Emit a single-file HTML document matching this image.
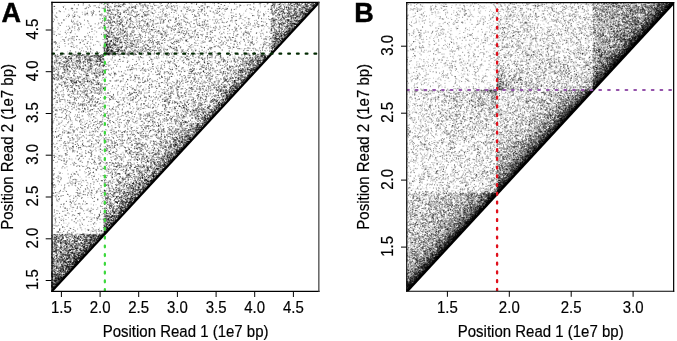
<!DOCTYPE html>
<html><head><meta charset="utf-8">
<style>
html,body{margin:0;padding:0;background:#fff;}
body{width:677px;height:341px;position:relative;overflow:hidden;font-family:"Liberation Sans",sans-serif;}
canvas{position:absolute;left:0;top:0;}
svg{position:absolute;left:0;top:0;}
</style></head><body>
<div id="wrap" style="position:absolute;left:0;top:0;width:677px;height:341px;filter:blur(0.3px);">
<svg id="fallback" width="677" height="341" viewBox="0 0 677 341" style="position:absolute;left:0;top:0"><defs><clipPath id="fa"><path d="M51.5 291.2L318.8 2.5H51.5Z"/></clipPath><clipPath id="fb"><path d="M406.8 291.0L673.6 2.6H406.8Z"/></clipPath></defs><g clip-path="url(#fa)"><path fill="#000000" d="M296 27h5v5h-5zM271 52h5v5h-5zM221 107h5v5h-5zM171 162h5v5h-5zM161 172h5v5h-5zM146 187h5v5h-5zM111 227h5v5h-5zM96 242h5v5h-5z"/><path fill="#0b0b0b" d="M286 37h5v5h-5zM236 92h5v5h-5zM211 117h5v5h-5zM196 132h5v5h-5zM181 147h5v5h-5zM151 182h5v5h-5zM136 197h5v5h-5zM131 202h5v5h-5zM101 237h5v5h-5zM86 252h5v5h-5zM81 257h5v5h-5zM76 262h5v5h-5zM71 267h5v5h-5zM61 277h5v5h-5zM56 282h5v5h-5z"/><path fill="#151515" d="M281 42h5v5h-5zM276 47h5v5h-5zM261 62h5v5h-5zM256 67h5v5h-5zM246 77h5v5h-5zM241 82h5v5h-5zM226 102h5v5h-5zM206 122h5v5h-5zM201 127h5v5h-5zM186 142h5v5h-5zM171 157h10v5h-10zM156 177h5v5h-5zM141 192h5v5h-5zM111 222h5v5h-5zM106 227h5v5h-5zM91 247h5v5h-5zM66 272h5v5h-5z"/><path fill="#202020" d="M316 2h5v5h-5zM311 7h5v5h-5zM306 12h5v5h-5zM301 17h5v5h-5zM301 22h5v5h-5zM266 57h5v5h-5zM251 72h5v5h-5zM236 87h5v5h-5zM231 92h5v5h-5zM226 97h5v5h-5zM221 102h5v5h-5zM216 112h5v5h-5zM191 137h5v5h-5zM176 152h5v5h-5zM166 167h5v5h-5zM126 207h5v5h-5zM121 212h5v5h-5zM116 217h5v5h-5zM116 222h5v5h-5zM106 232h5v5h-5z"/><path fill="#2a2a2a" d="M296 22h5v5h-5zM291 27h5v5h-5zM286 32h10v5h-10zM281 37h5v5h-5zM231 97h5v5h-5zM166 162h5v5h-5zM96 237h5v5h-5zM86 247h5v5h-5zM81 252h5v5h-5zM76 257h5v5h-5z"/><path fill="#353535" d="M241 87h5v5h-5zM216 107h5v5h-5zM211 112h5v5h-5zM161 167h5v5h-5zM151 177h5v5h-5zM146 182h5v5h-5zM101 232h5v5h-5zM91 242h5v5h-5zM71 262h5v5h-5zM56 277h5v5h-5zM51 287h5v5h-5z"/><path fill="#404040" d="M206 117h5v5h-5zM196 127h5v5h-5zM156 172h5v5h-5zM131 197h5v5h-5zM121 207h5v5h-5zM56 287h5v5h-5z"/><path fill="#4a4a4a" d="M276 42h5v5h-5zM271 47h5v5h-5zM251 67h5v5h-5zM176 147h5v5h-5zM181 152h5v5h-5zM141 187h5v5h-5zM126 202h5v5h-5zM66 267h5v5h-5zM51 282h5v5h-5z"/><path fill="#555555" d="M306 7h5v5h-5zM301 12h5v5h-5zM261 57h5v5h-5zM256 62h5v5h-5zM226 92h5v5h-5zM201 122h5v5h-5zM186 137h5v5h-5zM136 192h5v5h-5zM91 237h5v5h-5z"/><path fill="#606060" d="M311 2h5v5h-5zM246 72h5v5h-5zM241 77h5v5h-5zM231 87h5v5h-5zM166 157h5v5h-5zM116 212h5v5h-5zM111 217h5v5h-5zM106 222h5v5h-5zM81 247h5v5h-5zM76 252h5v5h-5zM71 257h5v5h-5zM66 262h5v5h-5zM61 267h5v5h-5zM61 272h5v5h-5z"/><path fill="#6a6a6a" d="M306 17h5v5h-5zM291 22h5v5h-5zM286 27h5v5h-5zM281 32h5v5h-5zM106 47h5v5h-5zM236 82h5v5h-5zM181 142h5v5h-5zM171 152h5v5h-5zM161 162h5v5h-5zM151 172h5v5h-5zM86 242h5v5h-5zM71 252h5v5h-5zM51 272h10v5h-10z"/><path fill="#757575" d="M296 17h5v5h-5zM276 37h5v5h-5zM96 57h5v5h-5zM216 102h5v5h-5zM201 117h5v5h-5zM191 132h5v5h-5zM126 197h5v5h-5zM121 202h5v5h-5zM106 217h5v5h-5zM86 237h5v5h-5zM81 242h5v5h-5zM66 252h5v5h-5zM61 257h10v5h-10zM61 262h5v5h-5zM56 267h5v5h-5z"/><path fill="#808080" d="M296 12h5v5h-5zM106 42h5v5h-5zM256 57h5v5h-5zM211 107h5v5h-5zM131 187h5v5h-5zM131 192h5v5h-5zM111 212h5v5h-5zM61 252h5v5h-5zM56 257h5v5h-5zM51 277h5v5h-5z"/><path fill="#8a8a8a" d="M301 7h5v5h-5zM286 12h5v5h-5zM291 17h5v5h-5zM276 32h5v5h-5zM271 37h5v5h-5zM271 42h5v5h-5zM116 47h5v5h-5zM106 52h5v5h-5zM231 82h5v5h-5zM206 112h5v5h-5zM196 122h5v5h-5zM191 127h5v5h-5zM186 132h5v5h-5zM181 137h5v5h-5zM166 152h5v5h-5zM156 162h5v5h-5zM156 167h5v5h-5zM146 177h5v5h-5zM136 182h10v5h-10zM136 187h5v5h-5zM116 207h5v5h-5zM106 212h5v5h-5zM66 242h5v5h-5zM56 247h5v5h-5zM66 247h15v5h-15z"/><path fill="#959595" d="M291 12h5v5h-5zM286 22h5v5h-5zM101 52h5v5h-5zM266 52h5v5h-5zM76 57h5v5h-5zM251 57h5v5h-5zM241 67h10v5h-10zM221 92h5v5h-5zM221 97h5v5h-5zM176 137h5v5h-5zM171 142h10v5h-10zM161 157h5v5h-5zM141 177h5v5h-5zM126 192h5v5h-5zM121 197h5v5h-5zM101 227h5v5h-5zM96 232h5v5h-5zM56 237h5v5h-5zM71 237h15v5h-15zM51 242h5v5h-5zM71 242h10v5h-10zM51 247h5v5h-5zM51 257h5v5h-5zM51 262h5v5h-5z"/><path fill="#9f9f9f" d="M296 2h5v5h-5zM306 2h5v5h-5zM286 7h5v5h-5zM271 17h5v5h-5zM286 17h5v5h-5zM281 22h5v5h-5zM106 32h5v5h-5zM116 37h5v5h-5zM111 42h5v5h-5zM111 47h5v5h-5zM111 52h5v5h-5zM261 52h5v5h-5zM66 57h5v5h-5zM86 57h5v5h-5zM246 62h10v5h-10zM241 72h5v5h-5zM236 77h5v5h-5zM216 87h5v5h-5zM226 87h5v5h-5zM201 112h5v5h-5zM181 132h5v5h-5zM171 137h5v5h-5zM146 167h10v5h-10zM131 182h5v5h-5zM121 192h5v5h-5zM116 197h5v5h-5zM116 202h5v5h-5zM111 207h5v5h-5zM86 232h10v5h-10zM51 237h5v5h-5zM61 237h5v5h-5zM61 242h5v5h-5zM61 247h5v5h-5zM56 252h5v5h-5zM56 262h5v5h-5zM51 267h5v5h-5z"/><path fill="#aaaaaa" d="M271 2h5v5h-5zM301 2h5v5h-5zM291 7h10v5h-10zM281 12h5v5h-5zM281 17h5v5h-5zM271 22h5v5h-5zM276 27h10v5h-10zM271 32h5v5h-5zM106 37h10v5h-10zM246 57h5v5h-5zM231 77h5v5h-5zM221 87h5v5h-5zM211 97h5v5h-5zM196 107h10v5h-10zM171 147h5v5h-5zM161 152h5v5h-5zM151 162h5v5h-5zM126 172h5v5h-5zM141 172h5v5h-5zM136 177h5v5h-5zM116 187h5v5h-5zM126 187h5v5h-5zM106 197h5v5h-5zM106 202h5v5h-5zM66 237h5v5h-5zM56 242h5v5h-5z"/><path fill="#b5b5b5" d="M291 2h5v5h-5zM276 7h10v5h-10zM276 12h5v5h-5zM276 22h5v5h-5zM271 27h5v5h-5zM131 42h5v5h-5zM121 47h5v5h-5zM141 47h5v5h-5zM96 52h5v5h-5zM61 62h10v5h-10zM76 62h5v5h-5zM101 62h5v5h-5zM96 72h5v5h-5zM236 72h5v5h-5zM71 77h5v5h-5zM226 77h5v5h-5zM71 82h5v5h-5zM96 82h5v5h-5zM216 97h5v5h-5zM206 107h5v5h-5zM196 112h5v5h-5zM196 117h5v5h-5zM191 122h5v5h-5zM181 127h10v5h-10zM161 142h10v5h-10zM166 147h5v5h-5zM151 152h5v5h-5zM146 157h15v5h-15zM136 167h5v5h-5zM146 172h5v5h-5zM121 177h5v5h-5zM126 182h5v5h-5zM111 192h5v5h-5zM101 217h5v5h-5zM56 232h10v5h-10zM71 232h5v5h-5zM81 232h5v5h-5z"/><path fill="#bfbfbf" d="M106 7h5v5h-5zM131 7h5v5h-5zM271 7h5v5h-5zM116 12h5v5h-5zM271 12h5v5h-5zM106 17h5v5h-5zM276 17h5v5h-5zM116 22h5v5h-5zM106 27h5v5h-5zM121 27h5v5h-5zM111 32h5v5h-5zM121 32h10v5h-10zM101 42h5v5h-5zM116 42h5v5h-5zM126 42h5v5h-5zM101 47h5v5h-5zM146 47h5v5h-5zM91 52h5v5h-5zM126 52h5v5h-5zM256 52h5v5h-5zM81 57h5v5h-5zM101 57h5v5h-5zM221 57h5v5h-5zM241 57h5v5h-5zM56 62h5v5h-5zM86 62h5v5h-5zM96 62h5v5h-5zM241 62h5v5h-5zM51 67h5v5h-5zM66 67h5v5h-5zM81 67h10v5h-10zM226 67h5v5h-5zM236 67h5v5h-5zM76 77h5v5h-5zM86 77h5v5h-5zM221 77h5v5h-5zM61 82h5v5h-5zM221 82h5v5h-5zM71 87h5v5h-5zM96 87h5v5h-5zM166 97h5v5h-5zM196 102h5v5h-5zM181 107h15v5h-15zM191 112h5v5h-5zM181 122h10v5h-10zM166 132h5v5h-5zM176 132h5v5h-5zM111 142h5v5h-5zM136 142h10v5h-10zM136 147h5v5h-5zM161 147h5v5h-5zM136 152h5v5h-5zM156 152h5v5h-5zM141 157h5v5h-5zM116 162h5v5h-5zM126 162h5v5h-5zM136 172h5v5h-5zM116 182h10v5h-10zM106 192h5v5h-5zM116 192h5v5h-5zM111 202h5v5h-5zM106 207h5v5h-5zM101 222h5v5h-5zM66 232h5v5h-5zM51 252h5v5h-5z"/><path fill="#cacaca" d="M106 2h5v5h-5zM116 2h5v5h-5zM276 2h5v5h-5zM286 2h5v5h-5zM106 12h10v5h-10zM141 12h5v5h-5zM111 17h10v5h-10zM126 17h5v5h-5zM106 22h10v5h-10zM121 22h10v5h-10zM146 22h5v5h-5zM176 22h5v5h-5zM116 27h5v5h-5zM116 32h5v5h-5zM161 32h5v5h-5zM126 37h15v5h-15zM121 42h5v5h-5zM126 47h15v5h-15zM156 47h5v5h-5zM71 52h20v5h-20zM116 52h10v5h-10zM131 52h5v5h-5zM146 52h5v5h-5zM56 57h10v5h-10zM71 57h5v5h-5zM91 57h5v5h-5zM201 57h5v5h-5zM231 57h5v5h-5zM71 62h5v5h-5zM81 62h5v5h-5zM91 62h5v5h-5zM236 62h5v5h-5zM61 67h5v5h-5zM71 67h5v5h-5zM91 67h5v5h-5zM191 67h5v5h-5zM201 67h5v5h-5zM56 72h10v5h-10zM86 72h10v5h-10zM101 72h5v5h-5zM206 72h5v5h-5zM221 72h5v5h-5zM231 72h5v5h-5zM56 77h15v5h-15zM81 77h5v5h-5zM91 77h5v5h-5zM191 77h5v5h-5zM206 77h5v5h-5zM76 82h10v5h-10zM176 82h5v5h-5zM211 82h5v5h-5zM91 87h5v5h-5zM101 87h5v5h-5zM191 87h10v5h-10zM206 87h5v5h-5zM86 92h5v5h-5zM166 92h5v5h-5zM181 92h5v5h-5zM196 92h5v5h-5zM91 97h5v5h-5zM161 97h5v5h-5zM191 97h5v5h-5zM81 102h5v5h-5zM91 102h5v5h-5zM176 102h10v5h-10zM191 102h5v5h-5zM201 102h15v5h-15zM81 107h5v5h-5zM146 112h5v5h-5zM156 112h5v5h-5zM176 112h10v5h-10zM151 117h5v5h-5zM166 117h20v5h-20zM156 122h5v5h-5zM176 122h5v5h-5zM141 127h5v5h-5zM161 127h5v5h-5zM171 127h10v5h-10zM141 132h5v5h-5zM171 132h5v5h-5zM156 137h10v5h-10zM156 142h5v5h-5zM106 147h5v5h-5zM126 147h5v5h-5zM156 147h5v5h-5zM141 152h5v5h-5zM111 162h5v5h-5zM136 162h15v5h-15zM126 167h5v5h-5zM141 167h5v5h-5zM111 172h10v5h-10zM116 177h5v5h-5zM131 177h5v5h-5zM106 182h5v5h-5zM106 187h10v5h-10zM121 187h5v5h-5zM76 192h5v5h-5zM101 192h5v5h-5zM101 212h5v5h-5zM76 232h5v5h-5z"/><path fill="#d4d4d4" d="M111 2h5v5h-5zM121 2h5v5h-5zM136 2h10v5h-10zM281 2h5v5h-5zM126 7h5v5h-5zM186 7h5v5h-5zM201 7h5v5h-5zM126 12h5v5h-5zM136 12h5v5h-5zM161 12h5v5h-5zM121 17h5v5h-5zM141 17h5v5h-5zM161 17h5v5h-5zM101 22h5v5h-5zM136 22h5v5h-5zM196 22h10v5h-10zM111 27h5v5h-5zM131 27h5v5h-5zM141 27h5v5h-5zM151 27h5v5h-5zM171 27h5v5h-5zM101 32h5v5h-5zM131 32h5v5h-5zM181 32h5v5h-5zM246 32h5v5h-5zM121 37h5v5h-5zM146 37h10v5h-10zM161 37h5v5h-5zM176 37h5v5h-5zM231 37h5v5h-5zM136 42h25v5h-25zM171 42h5v5h-5zM261 42h10v5h-10zM151 47h5v5h-5zM171 47h10v5h-10zM56 52h5v5h-5zM166 52h10v5h-10zM186 52h5v5h-5zM216 52h5v5h-5zM246 52h5v5h-5zM186 57h5v5h-5zM206 57h5v5h-5zM236 57h5v5h-5zM51 62h5v5h-5zM201 62h10v5h-10zM216 62h5v5h-5zM56 67h5v5h-5zM76 67h5v5h-5zM96 67h10v5h-10zM141 67h5v5h-5zM156 67h5v5h-5zM206 67h5v5h-5zM231 67h5v5h-5zM51 72h5v5h-5zM191 72h10v5h-10zM226 72h5v5h-5zM51 77h5v5h-5zM166 77h5v5h-5zM181 77h10v5h-10zM66 82h5v5h-5zM91 82h5v5h-5zM166 82h5v5h-5zM201 82h5v5h-5zM216 82h5v5h-5zM226 82h5v5h-5zM66 87h5v5h-5zM81 87h10v5h-10zM131 87h5v5h-5zM176 87h5v5h-5zM186 87h5v5h-5zM81 92h5v5h-5zM91 92h5v5h-5zM126 92h15v5h-15zM161 92h5v5h-5zM176 92h5v5h-5zM201 92h20v5h-20zM56 97h5v5h-5zM86 97h5v5h-5zM131 97h5v5h-5zM196 97h10v5h-10zM71 102h5v5h-5zM86 102h5v5h-5zM96 102h5v5h-5zM116 102h5v5h-5zM161 102h5v5h-5zM186 102h5v5h-5zM171 107h5v5h-5zM106 112h5v5h-5zM121 112h5v5h-5zM166 112h5v5h-5zM186 112h5v5h-5zM76 117h5v5h-5zM106 117h5v5h-5zM146 117h5v5h-5zM191 117h5v5h-5zM146 122h10v5h-10zM146 127h5v5h-5zM156 127h5v5h-5zM166 127h5v5h-5zM121 132h5v5h-5zM131 132h10v5h-10zM156 132h10v5h-10zM106 137h5v5h-5zM126 137h5v5h-5zM166 137h5v5h-5zM71 142h5v5h-5zM151 142h5v5h-5zM71 147h5v5h-5zM141 147h5v5h-5zM151 147h5v5h-5zM111 152h5v5h-5zM126 152h10v5h-10zM146 152h5v5h-5zM136 157h5v5h-5zM96 162h5v5h-5zM106 162h5v5h-5zM121 162h5v5h-5zM106 167h5v5h-5zM121 167h5v5h-5zM131 167h5v5h-5zM131 172h5v5h-5zM101 177h5v5h-5zM126 177h5v5h-5zM51 182h5v5h-5zM71 182h5v5h-5zM51 192h5v5h-5zM111 197h5v5h-5zM101 202h5v5h-5zM51 232h5v5h-5z"/><path fill="#dfdfdf" d="M101 2h5v5h-5zM131 2h5v5h-5zM166 2h10v5h-10zM201 2h5v5h-5zM101 7h5v5h-5zM111 7h10v5h-10zM146 7h5v5h-5zM171 7h5v5h-5zM216 7h5v5h-5zM71 12h5v5h-5zM91 12h5v5h-5zM101 12h5v5h-5zM131 12h5v5h-5zM146 12h10v5h-10zM191 12h10v5h-10zM216 12h5v5h-5zM231 12h5v5h-5zM101 17h5v5h-5zM136 17h5v5h-5zM151 17h10v5h-10zM166 17h5v5h-5zM176 17h10v5h-10zM231 17h5v5h-5zM71 22h10v5h-10zM131 22h5v5h-5zM141 22h5v5h-5zM151 22h10v5h-10zM186 22h5v5h-5zM206 22h5v5h-5zM246 22h5v5h-5zM256 22h10v5h-10zM101 27h5v5h-5zM126 27h5v5h-5zM146 27h5v5h-5zM156 27h10v5h-10zM176 27h10v5h-10zM191 27h5v5h-5zM201 27h5v5h-5zM211 27h5v5h-5zM231 27h10v5h-10zM136 32h5v5h-5zM156 32h5v5h-5zM166 32h5v5h-5zM176 32h5v5h-5zM186 32h15v5h-15zM206 32h5v5h-5zM241 32h5v5h-5zM71 37h5v5h-5zM141 37h5v5h-5zM171 37h5v5h-5zM181 37h10v5h-10zM206 37h5v5h-5zM226 37h5v5h-5zM261 37h10v5h-10zM176 42h5v5h-5zM216 42h10v5h-10zM236 42h5v5h-5zM251 42h5v5h-5zM86 47h5v5h-5zM161 47h5v5h-5zM181 47h15v5h-15zM206 47h5v5h-5zM246 47h5v5h-5zM256 47h15v5h-15zM61 52h10v5h-10zM136 52h5v5h-5zM156 52h5v5h-5zM181 52h5v5h-5zM196 52h5v5h-5zM206 52h10v5h-10zM241 52h5v5h-5zM251 52h5v5h-5zM51 57h5v5h-5zM136 57h5v5h-5zM166 57h10v5h-10zM181 57h5v5h-5zM196 57h5v5h-5zM106 62h5v5h-5zM186 62h15v5h-15zM226 62h10v5h-10zM126 67h10v5h-10zM181 67h10v5h-10zM211 67h5v5h-5zM221 67h5v5h-5zM66 72h20v5h-20zM111 72h5v5h-5zM121 72h5v5h-5zM156 72h20v5h-20zM186 72h5v5h-5zM201 72h5v5h-5zM211 72h10v5h-10zM96 77h5v5h-5zM126 77h25v5h-25zM176 77h5v5h-5zM196 77h5v5h-5zM216 77h5v5h-5zM56 82h5v5h-5zM86 82h5v5h-5zM101 82h5v5h-5zM136 82h5v5h-5zM156 82h5v5h-5zM171 82h5v5h-5zM191 82h10v5h-10zM206 82h5v5h-5zM51 87h5v5h-5zM76 87h5v5h-5zM136 87h5v5h-5zM166 87h10v5h-10zM201 87h5v5h-5zM211 87h5v5h-5zM56 92h5v5h-5zM71 92h10v5h-10zM96 92h5v5h-5zM106 92h5v5h-5zM186 92h5v5h-5zM71 97h5v5h-5zM81 97h5v5h-5zM96 97h5v5h-5zM106 97h10v5h-10zM121 97h10v5h-10zM151 97h5v5h-5zM176 97h5v5h-5zM206 97h5v5h-5zM66 102h5v5h-5zM76 102h5v5h-5zM101 102h5v5h-5zM126 102h5v5h-5zM141 102h10v5h-10zM166 102h10v5h-10zM51 107h15v5h-15zM76 107h5v5h-5zM86 107h5v5h-5zM96 107h5v5h-5zM111 107h5v5h-5zM136 107h5v5h-5zM151 107h5v5h-5zM161 107h10v5h-10zM66 112h5v5h-5zM126 112h10v5h-10zM141 112h5v5h-5zM151 112h5v5h-5zM161 112h5v5h-5zM66 117h5v5h-5zM116 117h5v5h-5zM126 117h5v5h-5zM136 117h10v5h-10zM161 117h5v5h-5zM81 122h20v5h-20zM106 122h5v5h-5zM116 122h5v5h-5zM126 122h5v5h-5zM141 122h5v5h-5zM171 122h5v5h-5zM51 127h5v5h-5zM71 127h5v5h-5zM81 127h5v5h-5zM91 127h10v5h-10zM111 127h5v5h-5zM126 127h10v5h-10zM151 127h5v5h-5zM56 132h5v5h-5zM66 132h5v5h-5zM96 132h5v5h-5zM111 132h10v5h-10zM146 132h10v5h-10zM71 137h10v5h-10zM86 137h5v5h-5zM96 137h10v5h-10zM111 137h15v5h-15zM131 137h10v5h-10zM146 137h5v5h-5zM61 142h5v5h-5zM81 142h5v5h-5zM91 142h10v5h-10zM106 142h5v5h-5zM116 142h10v5h-10zM131 142h5v5h-5zM66 147h5v5h-5zM76 147h5v5h-5zM111 147h5v5h-5zM131 147h5v5h-5zM146 147h5v5h-5zM76 152h10v5h-10zM91 152h5v5h-5zM116 152h10v5h-10zM61 157h5v5h-5zM76 157h5v5h-5zM91 157h10v5h-10zM116 157h10v5h-10zM131 157h5v5h-5zM71 162h5v5h-5zM131 162h5v5h-5zM86 167h5v5h-5zM101 167h5v5h-5zM111 167h10v5h-10zM71 172h5v5h-5zM86 172h10v5h-10zM106 172h5v5h-5zM56 177h5v5h-5zM71 177h5v5h-5zM111 177h5v5h-5zM101 182h5v5h-5zM111 182h5v5h-5zM76 187h5v5h-5zM96 187h10v5h-10zM56 192h5v5h-5zM56 197h5v5h-5zM101 197h5v5h-5zM86 207h5v5h-5zM101 207h5v5h-5zM76 212h5v5h-5zM96 212h5v5h-5zM96 217h5v5h-5zM56 227h5v5h-5zM91 227h10v5h-10z"/><path fill="#eaeaea" d="M51 2h5v5h-5zM86 2h5v5h-5zM146 2h20v5h-20zM176 2h5v5h-5zM196 2h5v5h-5zM206 2h5v5h-5zM216 2h10v5h-10zM236 2h5v5h-5zM261 2h10v5h-10zM71 7h5v5h-5zM86 7h5v5h-5zM96 7h5v5h-5zM121 7h5v5h-5zM136 7h10v5h-10zM151 7h20v5h-20zM181 7h5v5h-5zM191 7h10v5h-10zM206 7h5v5h-5zM221 7h15v5h-15zM251 7h5v5h-5zM266 7h5v5h-5zM66 12h5v5h-5zM81 12h10v5h-10zM96 12h5v5h-5zM121 12h5v5h-5zM156 12h5v5h-5zM166 12h5v5h-5zM181 12h5v5h-5zM201 12h5v5h-5zM221 12h5v5h-5zM236 12h5v5h-5zM251 12h15v5h-15zM71 17h5v5h-5zM131 17h5v5h-5zM146 17h5v5h-5zM171 17h5v5h-5zM191 17h15v5h-15zM211 17h10v5h-10zM236 17h5v5h-5zM246 17h5v5h-5zM256 17h15v5h-15zM56 22h5v5h-5zM166 22h10v5h-10zM181 22h5v5h-5zM191 22h5v5h-5zM216 22h15v5h-15zM241 22h5v5h-5zM251 22h5v5h-5zM266 22h5v5h-5zM66 27h15v5h-15zM91 27h5v5h-5zM136 27h5v5h-5zM166 27h5v5h-5zM186 27h5v5h-5zM206 27h5v5h-5zM216 27h5v5h-5zM241 27h10v5h-10zM266 27h5v5h-5zM56 32h5v5h-5zM66 32h5v5h-5zM86 32h5v5h-5zM141 32h15v5h-15zM171 32h5v5h-5zM201 32h5v5h-5zM221 32h5v5h-5zM236 32h5v5h-5zM256 32h15v5h-15zM51 37h5v5h-5zM61 37h10v5h-10zM81 37h5v5h-5zM101 37h5v5h-5zM156 37h5v5h-5zM166 37h5v5h-5zM191 37h15v5h-15zM211 37h15v5h-15zM241 37h15v5h-15zM51 42h10v5h-10zM71 42h10v5h-10zM86 42h5v5h-5zM161 42h10v5h-10zM186 42h20v5h-20zM211 42h5v5h-5zM226 42h10v5h-10zM246 42h5v5h-5zM56 47h5v5h-5zM166 47h5v5h-5zM201 47h5v5h-5zM211 47h5v5h-5zM226 47h5v5h-5zM236 47h10v5h-10zM251 47h5v5h-5zM51 52h5v5h-5zM141 52h5v5h-5zM151 52h5v5h-5zM161 52h5v5h-5zM176 52h5v5h-5zM191 52h5v5h-5zM226 52h10v5h-10zM111 57h15v5h-15zM141 57h5v5h-5zM151 57h15v5h-15zM176 57h5v5h-5zM191 57h5v5h-5zM211 57h10v5h-10zM226 57h5v5h-5zM126 62h5v5h-5zM151 62h5v5h-5zM161 62h20v5h-20zM211 62h5v5h-5zM221 62h5v5h-5zM106 67h10v5h-10zM136 67h5v5h-5zM146 67h10v5h-10zM161 67h20v5h-20zM196 67h5v5h-5zM216 67h5v5h-5zM106 72h5v5h-5zM131 72h5v5h-5zM146 72h5v5h-5zM176 72h10v5h-10zM101 77h5v5h-5zM111 77h15v5h-15zM151 77h15v5h-15zM201 77h5v5h-5zM211 77h5v5h-5zM51 82h5v5h-5zM121 82h5v5h-5zM141 82h15v5h-15zM161 82h5v5h-5zM181 82h10v5h-10zM56 87h10v5h-10zM121 87h10v5h-10zM141 87h10v5h-10zM156 87h10v5h-10zM181 87h5v5h-5zM51 92h5v5h-5zM61 92h10v5h-10zM101 92h5v5h-5zM111 92h5v5h-5zM141 92h20v5h-20zM171 92h5v5h-5zM51 97h5v5h-5zM61 97h10v5h-10zM76 97h5v5h-5zM116 97h5v5h-5zM136 97h15v5h-15zM156 97h5v5h-5zM171 97h5v5h-5zM181 97h10v5h-10zM121 102h5v5h-5zM136 102h5v5h-5zM151 102h10v5h-10zM66 107h10v5h-10zM91 107h5v5h-5zM101 107h10v5h-10zM116 107h5v5h-5zM126 107h5v5h-5zM141 107h5v5h-5zM176 107h5v5h-5zM51 112h5v5h-5zM61 112h5v5h-5zM76 112h5v5h-5zM86 112h10v5h-10zM101 112h5v5h-5zM111 112h10v5h-10zM136 112h5v5h-5zM171 112h5v5h-5zM51 117h15v5h-15zM91 117h15v5h-15zM131 117h5v5h-5zM156 117h5v5h-5zM186 117h5v5h-5zM51 122h20v5h-20zM101 122h5v5h-5zM111 122h5v5h-5zM121 122h5v5h-5zM161 122h10v5h-10zM56 127h15v5h-15zM76 127h5v5h-5zM86 127h5v5h-5zM116 127h10v5h-10zM136 127h5v5h-5zM51 132h5v5h-5zM61 132h5v5h-5zM71 132h25v5h-25zM101 132h5v5h-5zM126 132h5v5h-5zM56 137h15v5h-15zM91 137h5v5h-5zM141 137h5v5h-5zM151 137h5v5h-5zM51 142h5v5h-5zM66 142h5v5h-5zM76 142h5v5h-5zM86 142h5v5h-5zM126 142h5v5h-5zM146 142h5v5h-5zM56 147h5v5h-5zM86 147h20v5h-20zM116 147h10v5h-10zM51 152h20v5h-20zM86 152h5v5h-5zM106 152h5v5h-5zM56 157h5v5h-5zM66 157h5v5h-5zM101 157h5v5h-5zM111 157h5v5h-5zM126 157h5v5h-5zM61 162h5v5h-5zM76 162h20v5h-20zM91 167h10v5h-10zM56 172h5v5h-5zM121 172h5v5h-5zM76 177h5v5h-5zM91 177h10v5h-10zM106 177h5v5h-5zM66 182h5v5h-5zM86 182h5v5h-5zM61 187h5v5h-5zM81 187h15v5h-15zM66 192h5v5h-5zM81 192h15v5h-15zM66 197h10v5h-10zM81 197h5v5h-5zM91 197h5v5h-5zM61 202h5v5h-5zM71 202h10v5h-10zM61 207h20v5h-20zM96 207h5v5h-5zM71 212h5v5h-5zM51 217h5v5h-5zM61 217h5v5h-5zM71 217h5v5h-5zM91 217h5v5h-5zM51 222h10v5h-10zM91 222h5v5h-5zM61 227h15v5h-15zM86 227h5v5h-5z"/><path fill="#f4f4f4" d="M61 2h5v5h-5zM71 2h15v5h-15zM91 2h10v5h-10zM126 2h5v5h-5zM181 2h15v5h-15zM211 2h5v5h-5zM226 2h10v5h-10zM246 2h15v5h-15zM51 7h15v5h-15zM76 7h10v5h-10zM91 7h5v5h-5zM176 7h5v5h-5zM211 7h5v5h-5zM236 7h5v5h-5zM246 7h5v5h-5zM256 7h5v5h-5zM51 12h10v5h-10zM76 12h5v5h-5zM171 12h10v5h-10zM206 12h10v5h-10zM241 12h5v5h-5zM266 12h5v5h-5zM51 17h15v5h-15zM76 17h5v5h-5zM86 17h5v5h-5zM96 17h5v5h-5zM186 17h5v5h-5zM206 17h5v5h-5zM221 17h10v5h-10zM241 17h5v5h-5zM61 22h10v5h-10zM81 22h20v5h-20zM161 22h5v5h-5zM211 22h5v5h-5zM231 22h10v5h-10zM51 27h10v5h-10zM86 27h5v5h-5zM96 27h5v5h-5zM196 27h5v5h-5zM221 27h10v5h-10zM251 27h5v5h-5zM261 27h5v5h-5zM51 32h5v5h-5zM61 32h5v5h-5zM71 32h15v5h-15zM91 32h5v5h-5zM211 32h10v5h-10zM226 32h10v5h-10zM76 37h5v5h-5zM86 37h15v5h-15zM236 37h5v5h-5zM256 37h5v5h-5zM61 42h10v5h-10zM81 42h5v5h-5zM91 42h10v5h-10zM241 42h5v5h-5zM256 42h5v5h-5zM51 47h5v5h-5zM66 47h20v5h-20zM91 47h10v5h-10zM196 47h5v5h-5zM216 47h10v5h-10zM231 47h5v5h-5zM201 52h5v5h-5zM236 52h5v5h-5zM106 57h5v5h-5zM126 57h10v5h-10zM146 57h5v5h-5zM111 62h10v5h-10zM131 62h20v5h-20zM156 62h5v5h-5zM181 62h5v5h-5zM116 67h10v5h-10zM116 72h5v5h-5zM126 72h5v5h-5zM136 72h10v5h-10zM151 72h5v5h-5zM106 77h5v5h-5zM106 82h15v5h-15zM126 82h5v5h-5zM111 87h10v5h-10zM151 87h5v5h-5zM116 92h10v5h-10zM191 92h5v5h-5zM101 97h5v5h-5zM51 102h15v5h-15zM106 102h10v5h-10zM131 102h5v5h-5zM121 107h5v5h-5zM131 107h5v5h-5zM146 107h5v5h-5zM156 107h5v5h-5zM56 112h5v5h-5zM71 112h5v5h-5zM81 112h5v5h-5zM96 112h5v5h-5zM71 117h5v5h-5zM81 117h10v5h-10zM111 117h5v5h-5zM121 117h5v5h-5zM71 122h10v5h-10zM131 122h10v5h-10zM101 127h10v5h-10zM106 132h5v5h-5zM51 137h5v5h-5zM81 137h5v5h-5zM56 142h5v5h-5zM101 142h5v5h-5zM51 147h5v5h-5zM61 147h5v5h-5zM81 147h5v5h-5zM96 152h10v5h-10zM51 157h5v5h-5zM71 157h5v5h-5zM81 157h10v5h-10zM66 162h5v5h-5zM101 162h5v5h-5zM51 167h5v5h-5zM61 167h5v5h-5zM76 167h10v5h-10zM51 172h5v5h-5zM66 172h5v5h-5zM76 172h10v5h-10zM101 172h5v5h-5zM51 177h5v5h-5zM61 177h10v5h-10zM81 177h10v5h-10zM56 182h10v5h-10zM76 182h10v5h-10zM91 182h10v5h-10zM51 187h10v5h-10zM66 187h5v5h-5zM61 192h5v5h-5zM71 192h5v5h-5zM96 192h5v5h-5zM51 197h5v5h-5zM76 197h5v5h-5zM96 197h5v5h-5zM51 202h10v5h-10zM66 202h5v5h-5zM81 202h20v5h-20zM51 207h10v5h-10zM81 207h5v5h-5zM91 207h5v5h-5zM51 212h20v5h-20zM86 212h10v5h-10zM56 217h5v5h-5zM76 217h15v5h-15zM61 222h10v5h-10zM76 222h10v5h-10zM51 227h5v5h-5zM76 227h10v5h-10z"/></g><path fill="#000" d="M51.5 291.5L53.1 291.5L319.1 3.928091050181066L319.1 2.2L317.8 2.2L51.5 290.11994309363683Z"/><g clip-path="url(#fb)"><path fill="#000000" d="M661 12h5v5h-5zM656 22h5v5h-5zM651 27h5v5h-5zM641 37h5v5h-5zM636 42h5v5h-5zM631 47h5v5h-5zM626 52h5v5h-5zM616 62h5v5h-5zM611 67h5v5h-5zM591 92h5v5h-5zM586 97h5v5h-5zM581 102h5v5h-5zM576 107h5v5h-5zM566 117h5v5h-5zM561 122h5v5h-5zM556 127h5v5h-5zM531 157h5v5h-5zM526 162h5v5h-5zM521 167h5v5h-5zM516 172h5v5h-5zM511 177h5v5h-5zM506 182h5v5h-5zM501 187h5v5h-5zM491 197h5v5h-5zM486 202h5v5h-5zM466 222h10v5h-10zM466 227h5v5h-5zM456 237h5v5h-5zM451 242h5v5h-5zM446 247h5v5h-5zM441 252h5v5h-5zM436 257h5v5h-5zM431 262h5v5h-5zM426 267h5v5h-5zM411 287h5v4h-5z"/><path fill="#0b0b0b" d="M666 7h5v5h-5zM656 17h5v5h-5zM651 22h5v5h-5zM646 27h5v5h-5zM646 32h5v5h-5zM631 42h5v5h-5zM626 47h5v5h-5zM621 57h5v5h-5zM606 72h5v5h-5zM601 77h5v5h-5zM596 82h5v5h-5zM596 87h5v5h-5zM586 92h5v5h-5zM581 97h5v5h-5zM571 112h5v5h-5zM551 132h5v5h-5zM546 137h5v5h-5zM541 142h5v5h-5zM536 147h5v5h-5zM531 152h5v5h-5zM521 162h5v5h-5zM516 167h5v5h-5zM496 192h5v5h-5zM481 207h5v5h-5zM476 212h5v5h-5zM471 217h5v5h-5zM461 227h5v5h-5zM456 232h10v5h-10zM451 237h5v5h-5zM421 272h5v5h-5zM416 277h5v5h-5zM411 282h5v5h-5z"/><path fill="#151515" d="M641 32h5v5h-5zM636 37h5v5h-5zM621 52h5v5h-5zM616 57h5v5h-5zM611 62h5v5h-5zM576 102h5v5h-5zM571 107h5v5h-5zM566 112h5v5h-5zM561 117h5v5h-5zM536 152h5v5h-5zM526 157h5v5h-5zM511 172h5v5h-5zM501 182h5v5h-5zM446 242h5v5h-5zM441 247h5v5h-5z"/><path fill="#202020" d="M671 2h5v5h-5zM656 12h5v5h-5zM606 67h5v5h-5zM591 87h5v5h-5zM556 122h5v5h-5zM506 177h5v5h-5zM491 192h5v5h-5zM486 197h5v5h-5zM436 252h5v5h-5zM431 257h5v5h-5zM426 262h5v5h-5z"/><path fill="#2a2a2a" d="M666 2h5v5h-5zM661 7h5v5h-5zM651 17h5v5h-5zM646 22h5v5h-5zM641 27h5v5h-5zM601 72h5v5h-5zM596 77h5v5h-5zM551 127h5v5h-5zM546 132h5v5h-5zM541 137h5v5h-5zM531 147h5v5h-5zM496 187h5v5h-5zM476 207h5v5h-5zM421 267h5v5h-5zM416 272h5v5h-5zM411 277h5v5h-5zM406 287h5v4h-5z"/><path fill="#353535" d="M636 32h5v5h-5zM631 37h5v5h-5zM611 57h5v5h-5zM536 142h5v5h-5zM526 152h5v5h-5zM516 162h5v5h-5zM481 202h5v5h-5zM471 212h5v5h-5zM456 227h5v5h-5zM406 282h5v5h-5z"/><path fill="#404040" d="M656 7h5v5h-5zM626 42h5v5h-5zM521 157h5v5h-5zM511 167h5v5h-5zM466 217h5v5h-5zM461 222h5v5h-5zM451 232h5v5h-5zM446 237h5v5h-5zM426 257h5v5h-5z"/><path fill="#4a4a4a" d="M621 47h5v5h-5zM616 52h5v5h-5zM596 72h5v5h-5zM566 107h5v5h-5zM561 112h5v5h-5zM501 177h5v5h-5zM496 182h5v5h-5zM441 242h5v5h-5zM436 247h5v5h-5zM431 252h5v5h-5zM421 262h5v5h-5z"/><path fill="#555555" d="M606 57h5v5h-5zM606 62h5v5h-5zM601 67h5v5h-5zM581 92h5v5h-5zM576 97h5v5h-5zM571 102h5v5h-5zM556 117h5v5h-5zM506 172h5v5h-5z"/><path fill="#606060" d="M661 2h5v5h-5zM651 12h5v5h-5zM646 17h5v5h-5zM641 22h5v5h-5zM611 52h5v5h-5zM591 82h5v5h-5zM546 127h5v5h-5zM531 142h5v5h-5zM526 147h5v5h-5zM511 162h5v5h-5zM486 192h5v5h-5zM481 197h5v5h-5zM471 207h5v5h-5zM461 217h5v5h-5zM436 242h5v5h-5zM416 267h5v5h-5zM411 272h5v5h-5z"/><path fill="#6a6a6a" d="M651 7h5v5h-5zM636 27h5v5h-5zM631 32h5v5h-5zM621 37h10v5h-10zM601 62h5v5h-5zM586 87h5v5h-5zM556 112h5v5h-5zM551 122h5v5h-5zM541 132h5v5h-5zM536 137h5v5h-5zM476 202h5v5h-5zM456 222h5v5h-5zM446 232h5v5h-5z"/><path fill="#757575" d="M656 2h5v5h-5zM631 17h5v5h-5zM631 27h5v5h-5zM621 32h5v5h-5zM621 42h5v5h-5zM596 67h5v5h-5zM591 77h5v5h-5zM521 152h5v5h-5zM516 157h5v5h-5zM481 192h5v5h-5zM466 212h5v5h-5zM451 227h5v5h-5zM406 277h5v5h-5z"/><path fill="#808080" d="M641 7h5v5h-5zM646 12h5v5h-5zM641 17h5v5h-5zM631 22h5v5h-5zM616 47h5v5h-5zM601 52h5v5h-5zM576 92h5v5h-5zM571 97h5v5h-5zM566 102h5v5h-5zM561 107h5v5h-5zM551 117h5v5h-5zM541 122h10v5h-10zM526 142h5v5h-5zM506 162h5v5h-5zM506 167h5v5h-5zM466 207h5v5h-5zM436 237h5v5h-5zM416 257h10v5h-10zM416 262h5v5h-5z"/><path fill="#8a8a8a" d="M631 7h5v5h-5zM646 7h5v5h-5zM626 12h5v5h-5zM636 17h5v5h-5zM636 22h5v5h-5zM616 32h5v5h-5zM626 32h5v5h-5zM616 37h5v5h-5zM596 47h5v5h-5zM561 102h5v5h-5zM556 107h5v5h-5zM541 127h5v5h-5zM536 132h5v5h-5zM531 137h5v5h-5zM521 142h5v5h-5zM521 147h5v5h-5zM501 172h5v5h-5zM496 177h5v5h-5zM476 197h5v5h-5zM471 202h5v5h-5zM456 217h5v5h-5zM451 222h5v5h-5zM446 227h5v5h-5zM441 237h5v5h-5zM426 247h5v5h-5zM426 252h5v5h-5zM411 267h5v5h-5z"/><path fill="#959595" d="M611 2h5v5h-5zM626 7h5v5h-5zM636 7h5v5h-5zM621 12h5v5h-5zM641 12h5v5h-5zM621 17h10v5h-10zM626 22h5v5h-5zM616 27h5v5h-5zM626 27h5v5h-5zM606 37h5v5h-5zM611 47h5v5h-5zM596 52h5v5h-5zM606 52h5v5h-5zM596 57h10v5h-10zM496 82h5v5h-5zM581 87h5v5h-5zM566 97h5v5h-5zM556 102h5v5h-5zM546 112h5v5h-5zM536 127h5v5h-5zM516 152h5v5h-5zM511 157h5v5h-5zM501 162h5v5h-5zM501 167h5v5h-5zM496 172h5v5h-5zM471 192h5v5h-5zM466 202h5v5h-5zM461 207h5v5h-5zM456 212h10v5h-10zM451 217h5v5h-5zM436 227h5v5h-5zM441 232h5v5h-5zM431 242h5v5h-5zM431 247h5v5h-5z"/><path fill="#9f9f9f" d="M616 2h5v5h-5zM651 2h5v5h-5zM601 7h5v5h-5zM616 7h5v5h-5zM611 12h5v5h-5zM631 12h5v5h-5zM616 22h10v5h-10zM621 27h5v5h-5zM596 32h10v5h-10zM611 32h5v5h-5zM611 37h5v5h-5zM611 42h10v5h-10zM601 47h5v5h-5zM596 62h5v5h-5zM591 72h5v5h-5zM561 97h5v5h-5zM551 112h5v5h-5zM546 117h5v5h-5zM531 132h5v5h-5zM526 137h5v5h-5zM511 142h10v5h-10zM511 152h5v5h-5zM496 167h5v5h-5zM466 192h5v5h-5zM466 197h10v5h-10zM456 207h5v5h-5zM441 222h10v5h-10zM431 232h5v5h-5zM421 247h5v5h-5zM411 252h15v5h-15zM411 262h5v5h-5zM406 272h5v5h-5z"/><path fill="#aaaaaa" d="M606 2h5v5h-5zM641 2h10v5h-10zM606 7h5v5h-5zM596 12h15v5h-15zM616 12h5v5h-5zM596 17h10v5h-10zM611 17h5v5h-5zM606 22h10v5h-10zM601 27h5v5h-5zM611 27h5v5h-5zM601 37h5v5h-5zM601 42h10v5h-10zM606 47h5v5h-5zM591 67h5v5h-5zM496 77h5v5h-5zM491 87h10v5h-10zM491 92h5v5h-5zM571 92h5v5h-5zM491 97h5v5h-5zM506 147h15v5h-15zM496 152h5v5h-5zM506 152h5v5h-5zM501 157h5v5h-5zM476 192h5v5h-5zM446 202h5v5h-5zM461 202h5v5h-5zM431 212h5v5h-5zM441 212h5v5h-5zM451 212h5v5h-5zM431 217h5v5h-5zM421 222h5v5h-5zM436 222h5v5h-5zM436 232h5v5h-5zM426 237h10v5h-10zM421 242h5v5h-5zM411 247h5v5h-5zM411 257h5v5h-5z"/><path fill="#b5b5b5" d="M601 2h5v5h-5zM621 2h15v5h-15zM596 7h5v5h-5zM611 7h5v5h-5zM621 7h5v5h-5zM636 12h5v5h-5zM606 17h5v5h-5zM616 17h5v5h-5zM591 27h5v5h-5zM596 37h5v5h-5zM596 42h5v5h-5zM591 47h5v5h-5zM591 57h5v5h-5zM501 72h5v5h-5zM511 77h5v5h-5zM501 82h10v5h-10zM501 87h5v5h-5zM566 87h5v5h-5zM556 92h5v5h-5zM566 92h5v5h-5zM526 97h5v5h-5zM541 97h5v5h-5zM481 102h5v5h-5zM491 102h5v5h-5zM546 107h10v5h-10zM531 117h5v5h-5zM536 122h5v5h-5zM526 132h5v5h-5zM521 137h5v5h-5zM501 147h5v5h-5zM501 152h5v5h-5zM506 157h5v5h-5zM416 197h5v5h-5zM441 197h5v5h-5zM436 202h5v5h-5zM451 202h10v5h-10zM446 207h10v5h-10zM411 212h5v5h-5zM446 212h5v5h-5zM436 217h15v5h-15zM431 227h5v5h-5zM441 227h5v5h-5zM411 232h5v5h-5zM426 232h5v5h-5zM411 237h15v5h-15zM411 242h10v5h-10zM426 242h5v5h-5zM416 247h5v5h-5zM406 252h5v5h-5zM406 267h5v5h-5z"/><path fill="#bfbfbf" d="M636 2h5v5h-5zM591 7h5v5h-5zM591 17h5v5h-5zM596 22h10v5h-10zM596 27h5v5h-5zM606 27h5v5h-5zM591 32h5v5h-5zM606 32h5v5h-5zM591 42h5v5h-5zM586 62h10v5h-10zM516 77h5v5h-5zM586 77h5v5h-5zM526 82h5v5h-5zM586 82h5v5h-5zM486 87h5v5h-5zM511 87h5v5h-5zM576 87h5v5h-5zM456 92h5v5h-5zM541 92h5v5h-5zM551 92h5v5h-5zM561 92h5v5h-5zM451 97h5v5h-5zM476 97h5v5h-5zM556 97h5v5h-5zM541 102h10v5h-10zM536 112h10v5h-10zM521 117h5v5h-5zM536 117h10v5h-10zM516 122h5v5h-5zM526 122h5v5h-5zM526 127h10v5h-10zM516 132h5v5h-5zM506 137h5v5h-5zM516 137h5v5h-5zM496 142h5v5h-5zM506 142h5v5h-5zM496 157h5v5h-5zM496 162h5v5h-5zM491 177h5v5h-5zM486 187h10v5h-10zM446 192h5v5h-5zM456 192h10v5h-10zM436 197h5v5h-5zM446 197h5v5h-5zM456 197h10v5h-10zM426 202h10v5h-10zM441 202h5v5h-5zM436 207h10v5h-10zM421 212h10v5h-10zM436 212h5v5h-5zM411 222h5v5h-5zM426 222h10v5h-10zM421 227h10v5h-10zM416 232h10v5h-10zM406 257h5v5h-5z"/><path fill="#cacaca" d="M591 2h10v5h-10zM591 12h5v5h-5zM591 22h5v5h-5zM501 32h5v5h-5zM526 52h10v5h-10zM591 52h5v5h-5zM546 62h5v5h-5zM501 67h5v5h-5zM561 67h10v5h-10zM496 72h5v5h-5zM561 72h10v5h-10zM501 77h5v5h-5zM536 77h5v5h-5zM581 77h5v5h-5zM521 82h5v5h-5zM536 82h5v5h-5zM581 82h5v5h-5zM481 87h5v5h-5zM506 87h5v5h-5zM516 87h5v5h-5zM526 87h5v5h-5zM561 87h5v5h-5zM571 87h5v5h-5zM471 92h10v5h-10zM486 92h5v5h-5zM546 92h5v5h-5zM471 97h5v5h-5zM481 97h5v5h-5zM516 97h5v5h-5zM531 97h10v5h-10zM546 97h5v5h-5zM471 102h10v5h-10zM536 102h5v5h-5zM551 102h5v5h-5zM481 107h10v5h-10zM526 107h10v5h-10zM456 112h5v5h-5zM476 112h5v5h-5zM491 112h10v5h-10zM531 112h5v5h-5zM526 117h5v5h-5zM531 122h5v5h-5zM506 127h5v5h-5zM516 127h10v5h-10zM446 132h5v5h-5zM511 132h5v5h-5zM521 132h5v5h-5zM421 142h5v5h-5zM501 142h5v5h-5zM476 152h5v5h-5zM421 192h5v5h-5zM436 192h5v5h-5zM451 192h5v5h-5zM411 197h5v5h-5zM431 197h5v5h-5zM451 197h5v5h-5zM411 202h5v5h-5zM411 207h5v5h-5zM426 207h10v5h-10zM416 217h15v5h-15zM416 222h5v5h-5zM406 227h10v5h-10zM406 262h5v5h-5z"/><path fill="#d4d4d4" d="M506 7h5v5h-5zM551 7h5v5h-5zM506 12h5v5h-5zM521 12h5v5h-5zM571 12h5v5h-5zM521 22h10v5h-10zM501 27h5v5h-5zM526 27h5v5h-5zM546 27h5v5h-5zM511 32h5v5h-5zM571 32h5v5h-5zM586 32h5v5h-5zM531 37h5v5h-5zM591 37h5v5h-5zM516 42h5v5h-5zM576 42h5v5h-5zM576 47h5v5h-5zM586 47h5v5h-5zM506 52h5v5h-5zM576 52h10v5h-10zM526 57h5v5h-5zM546 57h15v5h-15zM496 62h5v5h-5zM516 62h5v5h-5zM526 62h5v5h-5zM536 62h5v5h-5zM551 62h15v5h-15zM496 67h5v5h-5zM516 67h10v5h-10zM536 67h10v5h-10zM556 67h5v5h-5zM581 67h10v5h-10zM506 72h15v5h-15zM526 72h5v5h-5zM536 72h10v5h-10zM556 72h5v5h-5zM576 72h15v5h-15zM506 77h5v5h-5zM521 77h5v5h-5zM556 77h5v5h-5zM566 77h15v5h-15zM511 82h10v5h-10zM531 82h5v5h-5zM546 82h10v5h-10zM561 82h10v5h-10zM576 82h5v5h-5zM531 87h5v5h-5zM546 87h5v5h-5zM556 87h5v5h-5zM441 92h15v5h-15zM461 92h5v5h-5zM481 92h5v5h-5zM496 92h5v5h-5zM511 92h5v5h-5zM526 92h5v5h-5zM431 97h5v5h-5zM441 97h5v5h-5zM456 97h10v5h-10zM551 97h5v5h-5zM456 102h5v5h-5zM506 102h10v5h-10zM526 102h10v5h-10zM456 107h5v5h-5zM471 107h5v5h-5zM491 107h10v5h-10zM506 107h5v5h-5zM516 107h5v5h-5zM536 107h10v5h-10zM441 112h15v5h-15zM486 112h5v5h-5zM511 112h5v5h-5zM521 112h5v5h-5zM436 117h5v5h-5zM446 117h5v5h-5zM456 117h15v5h-15zM476 117h5v5h-5zM486 117h5v5h-5zM501 117h10v5h-10zM451 122h5v5h-5zM476 122h5v5h-5zM501 122h5v5h-5zM511 122h5v5h-5zM521 122h5v5h-5zM406 127h5v5h-5zM451 127h10v5h-10zM466 127h10v5h-10zM491 127h5v5h-5zM501 127h5v5h-5zM511 127h5v5h-5zM451 132h5v5h-5zM491 132h20v5h-20zM461 137h5v5h-5zM496 137h5v5h-5zM511 137h5v5h-5zM446 142h5v5h-5zM471 142h5v5h-5zM486 142h5v5h-5zM426 147h5v5h-5zM451 147h5v5h-5zM476 147h5v5h-5zM496 147h5v5h-5zM491 167h5v5h-5zM426 172h5v5h-5zM476 172h15v5h-15zM461 177h5v5h-5zM471 177h5v5h-5zM486 177h5v5h-5zM446 182h5v5h-5zM486 182h10v5h-10zM481 187h5v5h-5zM411 192h10v5h-10zM426 192h10v5h-10zM441 192h5v5h-5zM426 197h5v5h-5zM406 202h5v5h-5zM416 202h10v5h-10zM416 207h10v5h-10zM406 212h5v5h-5zM416 212h5v5h-5zM406 222h5v5h-5zM416 227h5v5h-5zM406 232h5v5h-5zM406 237h5v5h-5zM406 247h5v5h-5z"/><path fill="#dfdfdf" d="M441 2h5v5h-5zM526 2h15v5h-15zM416 7h5v5h-5zM461 7h5v5h-5zM511 7h5v5h-5zM561 7h5v5h-5zM571 7h5v5h-5zM511 12h5v5h-5zM526 12h10v5h-10zM556 12h15v5h-15zM496 17h5v5h-5zM506 17h5v5h-5zM526 17h5v5h-5zM541 17h5v5h-5zM551 17h15v5h-15zM571 17h5v5h-5zM581 17h10v5h-10zM496 22h5v5h-5zM506 22h5v5h-5zM561 22h10v5h-10zM581 22h5v5h-5zM496 27h5v5h-5zM506 27h5v5h-5zM516 27h10v5h-10zM531 27h5v5h-5zM561 27h30v5h-30zM416 32h5v5h-5zM516 32h5v5h-5zM526 32h5v5h-5zM546 32h15v5h-15zM581 32h5v5h-5zM496 37h10v5h-10zM511 37h10v5h-10zM536 37h20v5h-20zM566 37h5v5h-5zM576 37h5v5h-5zM501 42h15v5h-15zM521 42h10v5h-10zM546 42h15v5h-15zM411 47h5v5h-5zM421 47h5v5h-5zM501 47h5v5h-5zM516 47h15v5h-15zM546 47h15v5h-15zM581 47h5v5h-5zM501 52h5v5h-5zM521 52h5v5h-5zM536 52h20v5h-20zM566 52h10v5h-10zM496 57h10v5h-10zM521 57h5v5h-5zM536 57h10v5h-10zM561 57h10v5h-10zM576 57h15v5h-15zM451 62h5v5h-5zM501 62h5v5h-5zM511 62h5v5h-5zM541 62h5v5h-5zM566 62h20v5h-20zM506 67h10v5h-10zM526 67h10v5h-10zM546 67h10v5h-10zM571 67h5v5h-5zM441 72h5v5h-5zM531 72h5v5h-5zM551 72h5v5h-5zM571 72h5v5h-5zM481 77h5v5h-5zM526 77h10v5h-10zM541 77h5v5h-5zM551 77h5v5h-5zM561 77h5v5h-5zM541 82h5v5h-5zM556 82h5v5h-5zM411 87h5v5h-5zM421 87h5v5h-5zM436 87h5v5h-5zM456 87h5v5h-5zM466 87h15v5h-15zM521 87h5v5h-5zM536 87h5v5h-5zM551 87h5v5h-5zM411 92h5v5h-5zM421 92h10v5h-10zM466 92h5v5h-5zM506 92h5v5h-5zM521 92h5v5h-5zM531 92h5v5h-5zM446 97h5v5h-5zM466 97h5v5h-5zM486 97h5v5h-5zM501 97h10v5h-10zM521 97h5v5h-5zM426 102h5v5h-5zM441 102h5v5h-5zM451 102h5v5h-5zM461 102h10v5h-10zM486 102h5v5h-5zM496 102h5v5h-5zM516 102h10v5h-10zM426 107h5v5h-5zM436 107h20v5h-20zM466 107h5v5h-5zM476 107h5v5h-5zM511 107h5v5h-5zM521 107h5v5h-5zM406 112h5v5h-5zM431 112h5v5h-5zM461 112h5v5h-5zM471 112h5v5h-5zM501 112h10v5h-10zM516 112h5v5h-5zM526 112h5v5h-5zM411 117h5v5h-5zM441 117h5v5h-5zM451 117h5v5h-5zM471 117h5v5h-5zM481 117h5v5h-5zM496 117h5v5h-5zM511 117h10v5h-10zM436 122h5v5h-5zM456 122h10v5h-10zM471 122h5v5h-5zM481 122h10v5h-10zM496 122h5v5h-5zM506 122h5v5h-5zM426 127h5v5h-5zM436 127h5v5h-5zM461 127h5v5h-5zM476 127h15v5h-15zM496 127h5v5h-5zM406 132h5v5h-5zM416 132h5v5h-5zM456 132h20v5h-20zM486 132h5v5h-5zM441 137h15v5h-15zM471 137h5v5h-5zM486 137h10v5h-10zM501 137h5v5h-5zM411 142h5v5h-5zM451 142h5v5h-5zM481 142h5v5h-5zM491 142h5v5h-5zM446 147h5v5h-5zM466 147h10v5h-10zM486 147h10v5h-10zM441 152h25v5h-25zM411 157h5v5h-5zM451 157h10v5h-10zM466 157h5v5h-5zM476 157h15v5h-15zM421 162h5v5h-5zM456 162h10v5h-10zM476 162h5v5h-5zM421 167h10v5h-10zM436 167h10v5h-10zM451 167h5v5h-5zM481 167h10v5h-10zM421 172h5v5h-5zM436 172h5v5h-5zM451 172h5v5h-5zM461 172h10v5h-10zM491 172h5v5h-5zM421 177h5v5h-5zM431 177h10v5h-10zM456 177h5v5h-5zM476 177h5v5h-5zM461 182h10v5h-10zM436 187h15v5h-15zM466 187h10v5h-10zM406 192h5v5h-5zM421 197h5v5h-5zM406 207h5v5h-5zM406 217h10v5h-10zM406 242h5v5h-5z"/><path fill="#eaeaea" d="M406 2h5v5h-5zM431 2h5v5h-5zM461 2h15v5h-15zM491 2h30v5h-30zM541 2h5v5h-5zM551 2h5v5h-5zM561 2h20v5h-20zM586 2h5v5h-5zM411 7h5v5h-5zM431 7h5v5h-5zM441 7h5v5h-5zM456 7h5v5h-5zM496 7h10v5h-10zM516 7h20v5h-20zM541 7h10v5h-10zM556 7h5v5h-5zM576 7h15v5h-15zM421 12h5v5h-5zM431 12h5v5h-5zM456 12h15v5h-15zM491 12h10v5h-10zM516 12h5v5h-5zM536 12h20v5h-20zM576 12h5v5h-5zM586 12h5v5h-5zM421 17h5v5h-5zM481 17h5v5h-5zM491 17h5v5h-5zM501 17h5v5h-5zM511 17h15v5h-15zM531 17h10v5h-10zM566 17h5v5h-5zM576 17h5v5h-5zM411 22h5v5h-5zM476 22h5v5h-5zM511 22h5v5h-5zM531 22h10v5h-10zM556 22h5v5h-5zM576 22h5v5h-5zM586 22h5v5h-5zM416 27h5v5h-5zM436 27h10v5h-10zM511 27h5v5h-5zM536 27h10v5h-10zM556 27h5v5h-5zM411 32h5v5h-5zM436 32h10v5h-10zM466 32h5v5h-5zM481 32h5v5h-5zM491 32h10v5h-10zM506 32h5v5h-5zM521 32h5v5h-5zM531 32h15v5h-15zM561 32h10v5h-10zM576 32h5v5h-5zM461 37h5v5h-5zM481 37h15v5h-15zM506 37h5v5h-5zM521 37h5v5h-5zM561 37h5v5h-5zM571 37h5v5h-5zM581 37h10v5h-10zM416 42h5v5h-5zM446 42h5v5h-5zM481 42h5v5h-5zM496 42h5v5h-5zM531 42h15v5h-15zM566 42h10v5h-10zM586 42h5v5h-5zM436 47h5v5h-5zM451 47h10v5h-10zM491 47h10v5h-10zM506 47h10v5h-10zM531 47h15v5h-15zM566 47h10v5h-10zM411 52h5v5h-5zM466 52h10v5h-10zM481 52h5v5h-5zM491 52h10v5h-10zM511 52h10v5h-10zM556 52h5v5h-5zM586 52h5v5h-5zM406 57h5v5h-5zM431 57h5v5h-5zM441 57h5v5h-5zM451 57h5v5h-5zM491 57h5v5h-5zM506 57h15v5h-15zM531 57h5v5h-5zM571 57h5v5h-5zM416 62h15v5h-15zM441 62h10v5h-10zM461 62h15v5h-15zM506 62h5v5h-5zM521 62h5v5h-5zM531 62h5v5h-5zM421 67h5v5h-5zM451 67h5v5h-5zM461 67h10v5h-10zM476 67h5v5h-5zM416 72h5v5h-5zM446 72h5v5h-5zM471 72h5v5h-5zM521 72h5v5h-5zM546 72h5v5h-5zM411 77h15v5h-15zM436 77h5v5h-5zM461 77h10v5h-10zM546 77h5v5h-5zM421 82h5v5h-5zM436 82h5v5h-5zM486 82h5v5h-5zM571 82h5v5h-5zM416 87h5v5h-5zM426 87h10v5h-10zM441 87h10v5h-10zM541 87h5v5h-5zM436 92h5v5h-5zM501 92h5v5h-5zM516 92h5v5h-5zM536 92h5v5h-5zM411 97h20v5h-20zM436 97h5v5h-5zM496 97h5v5h-5zM511 97h5v5h-5zM406 102h20v5h-20zM431 102h10v5h-10zM446 102h5v5h-5zM501 102h5v5h-5zM406 107h5v5h-5zM421 107h5v5h-5zM461 107h5v5h-5zM501 107h5v5h-5zM416 112h15v5h-15zM436 112h5v5h-5zM466 112h5v5h-5zM481 112h5v5h-5zM416 117h20v5h-20zM491 117h5v5h-5zM421 122h15v5h-15zM441 122h10v5h-10zM466 122h5v5h-5zM491 122h5v5h-5zM416 127h10v5h-10zM431 127h5v5h-5zM441 127h10v5h-10zM411 132h5v5h-5zM421 132h15v5h-15zM441 132h5v5h-5zM476 132h10v5h-10zM411 137h15v5h-15zM456 137h5v5h-5zM466 137h5v5h-5zM476 137h5v5h-5zM416 142h5v5h-5zM426 142h20v5h-20zM466 142h5v5h-5zM476 142h5v5h-5zM411 147h15v5h-15zM431 147h10v5h-10zM461 147h5v5h-5zM481 147h5v5h-5zM411 152h30v5h-30zM481 152h15v5h-15zM406 157h5v5h-5zM421 157h10v5h-10zM436 157h15v5h-15zM461 157h5v5h-5zM471 157h5v5h-5zM491 157h5v5h-5zM431 162h15v5h-15zM451 162h5v5h-5zM466 162h10v5h-10zM481 162h15v5h-15zM411 167h5v5h-5zM431 167h5v5h-5zM461 167h15v5h-15zM406 172h5v5h-5zM431 172h5v5h-5zM441 172h10v5h-10zM456 172h5v5h-5zM471 172h5v5h-5zM411 177h10v5h-10zM441 177h15v5h-15zM481 177h5v5h-5zM406 182h5v5h-5zM416 182h5v5h-5zM426 182h20v5h-20zM456 182h5v5h-5zM471 182h5v5h-5zM481 182h5v5h-5zM406 187h25v5h-25zM451 187h15v5h-15zM476 187h5v5h-5zM406 197h5v5h-5z"/><path fill="#f4f4f4" d="M411 2h20v5h-20zM436 2h5v5h-5zM446 2h15v5h-15zM476 2h10v5h-10zM521 2h5v5h-5zM546 2h5v5h-5zM556 2h5v5h-5zM581 2h5v5h-5zM406 7h5v5h-5zM421 7h10v5h-10zM436 7h5v5h-5zM451 7h5v5h-5zM466 7h30v5h-30zM536 7h5v5h-5zM566 7h5v5h-5zM406 12h10v5h-10zM426 12h5v5h-5zM436 12h20v5h-20zM471 12h20v5h-20zM501 12h5v5h-5zM581 12h5v5h-5zM406 17h15v5h-15zM426 17h5v5h-5zM436 17h35v5h-35zM476 17h5v5h-5zM486 17h5v5h-5zM546 17h5v5h-5zM406 22h5v5h-5zM416 22h50v5h-50zM471 22h5v5h-5zM481 22h15v5h-15zM501 22h5v5h-5zM516 22h5v5h-5zM546 22h10v5h-10zM571 22h5v5h-5zM406 27h10v5h-10zM421 27h5v5h-5zM431 27h5v5h-5zM446 27h5v5h-5zM456 27h20v5h-20zM481 27h15v5h-15zM551 27h5v5h-5zM406 32h5v5h-5zM421 32h15v5h-15zM446 32h5v5h-5zM461 32h5v5h-5zM471 32h5v5h-5zM486 32h5v5h-5zM411 37h50v5h-50zM466 37h15v5h-15zM526 37h5v5h-5zM556 37h5v5h-5zM406 42h10v5h-10zM421 42h25v5h-25zM451 42h30v5h-30zM486 42h10v5h-10zM561 42h5v5h-5zM581 42h5v5h-5zM406 47h5v5h-5zM416 47h5v5h-5zM426 47h10v5h-10zM441 47h10v5h-10zM461 47h30v5h-30zM561 47h5v5h-5zM416 52h10v5h-10zM431 52h35v5h-35zM476 52h5v5h-5zM486 52h5v5h-5zM561 52h5v5h-5zM411 57h20v5h-20zM436 57h5v5h-5zM446 57h5v5h-5zM456 57h35v5h-35zM406 62h5v5h-5zM431 62h10v5h-10zM456 62h5v5h-5zM476 62h20v5h-20zM406 67h15v5h-15zM426 67h25v5h-25zM456 67h5v5h-5zM471 67h5v5h-5zM486 67h10v5h-10zM576 67h5v5h-5zM406 72h10v5h-10zM421 72h10v5h-10zM436 72h5v5h-5zM451 72h5v5h-5zM461 72h10v5h-10zM476 72h20v5h-20zM406 77h5v5h-5zM426 77h10v5h-10zM441 77h20v5h-20zM471 77h10v5h-10zM491 77h5v5h-5zM406 82h15v5h-15zM426 82h10v5h-10zM441 82h5v5h-5zM451 82h10v5h-10zM471 82h15v5h-15zM491 82h5v5h-5zM406 87h5v5h-5zM451 87h5v5h-5zM461 87h5v5h-5zM406 92h5v5h-5zM416 92h5v5h-5zM431 92h5v5h-5zM406 97h5v5h-5zM411 107h10v5h-10zM431 107h5v5h-5zM411 112h5v5h-5zM406 117h5v5h-5zM406 122h15v5h-15zM411 127h5v5h-5zM436 132h5v5h-5zM406 137h5v5h-5zM426 137h15v5h-15zM481 137h5v5h-5zM406 142h5v5h-5zM456 142h10v5h-10zM406 147h5v5h-5zM441 147h5v5h-5zM456 147h5v5h-5zM406 152h5v5h-5zM466 152h10v5h-10zM416 157h5v5h-5zM431 157h5v5h-5zM406 162h15v5h-15zM426 162h5v5h-5zM446 162h5v5h-5zM406 167h5v5h-5zM446 167h5v5h-5zM456 167h5v5h-5zM476 167h5v5h-5zM411 172h10v5h-10zM406 177h5v5h-5zM426 177h5v5h-5zM466 177h5v5h-5zM411 182h5v5h-5zM421 182h5v5h-5zM451 182h5v5h-5zM476 182h5v5h-5zM431 187h5v5h-5z"/></g><path fill="#000" d="M406.8 291.3L408.40000000000003 291.3L673.9 4.030791599353797L673.9 2.3000000000000003L672.6 2.3000000000000003L406.8 289.9182552504039Z"/></svg>
<canvas id="cv" width="677" height="341"></canvas>
<svg width="677" height="341" viewBox="0 0 677 341" font-family="Liberation Sans, sans-serif">
<defs>
<clipPath id="ca"><rect x="51.5" y="2.5" width="267.3" height="288.7"/></clipPath>
<clipPath id="cb"><rect x="406.8" y="2.6" width="266.8" height="288.4"/></clipPath>
</defs>
<!-- Panel A lines -->
<g clip-path="url(#ca)" stroke-linecap="round">
<line x1="104.85" y1="299.74" x2="104.85" y2="0" stroke="#3cd83c" stroke-width="2.25" stroke-dasharray="1.8 6.94"/>
<line x1="43.47" y1="53.65" x2="330" y2="53.65" stroke="#022a02" stroke-width="2.2" stroke-dasharray="1.8 6.94"/>
</g>
<g clip-path="url(#cb)" stroke-linecap="round">
<line x1="497.1" y1="299.54" x2="497.1" y2="0" stroke="#e0101c" stroke-width="2.35" stroke-dasharray="1.8 6.94"/>
<line x1="398.29" y1="89.95" x2="690" y2="89.95" stroke="#9452aa" stroke-width="2.0" stroke-dasharray="1.8 6.94"/>
</g>
<!-- boxes -->
<g stroke="#000" fill="none">
<path d="M51.3 2.45H319.5" stroke-width="1.25"/>
<path d="M51.3 291.4H319.5" stroke-width="1.1"/>
<path d="M52.0 1.8V292" stroke-width="1.3"/>
<path d="M318.85 1.8V292" stroke-width="1.2" stroke="#3a3a3a"/>
<path d="M406.1 2.55H674.3" stroke-width="1.25"/>
<path d="M406.1 291.2H674.3" stroke-width="1.1"/>
<path d="M406.75 1.9V291.8" stroke-width="1.2"/>
<path d="M673.65 1.9V291.8" stroke-width="1.2"/>
</g>
<!-- ticks A -->
<g stroke="#000" stroke-width="1">
<path d="M61.4 291.2v5.8M100.1 291.2v5.8M138.7 291.2v5.8M177.4 291.2v5.8M216.1 291.2v5.8M254.7 291.2v5.8M293.4 291.2v5.8"/>
<path d="M51.5 280.5h-5.8M51.5 238.8h-5.8M51.5 197.0h-5.8M51.5 155.2h-5.8M51.5 113.5h-5.8M51.5 71.7h-5.8M51.5 30.0h-5.8"/>
<path d="M447.4 291v5.8M509.3 291v5.8M571.2 291v5.8M633.1 291v5.8"/>
<path d="M406.8 247.1h-5.8M406.8 180.1h-5.8M406.8 113.2h-5.8M406.8 46.2h-5.8"/>
</g>
<g font-size="15" fill="#000" stroke="#000" stroke-width="0.18" text-anchor="middle">
<text transform="translate(61.4 312.9) scale(1 1.15)">1.5</text>
<text transform="translate(100.1 312.9) scale(1 1.15)">2.0</text>
<text transform="translate(138.7 312.9) scale(1 1.15)">2.5</text>
<text transform="translate(177.4 312.9) scale(1 1.15)">3.0</text>
<text transform="translate(216.1 312.9) scale(1 1.15)">3.5</text>
<text transform="translate(254.7 312.9) scale(1 1.15)">4.0</text>
<text transform="translate(293.4 312.9) scale(1 1.15)">4.5</text>
<text transform="translate(447.4 312.9) scale(1 1.15)">1.5</text>
<text transform="translate(509.3 312.9) scale(1 1.15)">2.0</text>
<text transform="translate(571.2 312.9) scale(1 1.15)">2.5</text>
<text transform="translate(633.1 312.9) scale(1 1.15)">3.0</text>
<text transform="translate(37.9 279.7) rotate(-90) scale(1 1.05)">1.5</text>
<text transform="translate(37.9 238.0) rotate(-90) scale(1 1.05)">2.0</text>
<text transform="translate(37.9 196.2) rotate(-90) scale(1 1.05)">2.5</text>
<text transform="translate(37.9 154.4) rotate(-90) scale(1 1.05)">3.0</text>
<text transform="translate(37.9 112.7) rotate(-90) scale(1 1.05)">3.5</text>
<text transform="translate(37.9 70.9) rotate(-90) scale(1 1.05)">4.0</text>
<text transform="translate(37.9 29.2) rotate(-90) scale(1 1.05)">4.5</text>
<text transform="translate(393.1 246.3) rotate(-90) scale(1 1.05)">1.5</text>
<text transform="translate(393.1 179.3) rotate(-90) scale(1 1.05)">2.0</text>
<text transform="translate(393.1 112.4) rotate(-90) scale(1 1.05)">2.5</text>
<text transform="translate(393.1 45.4) rotate(-90) scale(1 1.05)">3.0</text>
<text transform="translate(185.6 336.6) scale(1 1.15)">Position Read 1 (1e7 bp)</text>
<text transform="translate(540.7 336.6) scale(1 1.15)">Position Read 1 (1e7 bp)</text>
<text transform="translate(13.2 146.9) rotate(-90) scale(1 1.05)">Position Read 2 (1e7 bp)</text>
<text transform="translate(368.5 146.8) rotate(-90) scale(1 1.05)">Position Read 2 (1e7 bp)</text>
</g>
<g font-size="27" font-weight="bold" fill="#000" stroke="#000" stroke-width="0.45">
<text transform="translate(1.6 22.0) scale(1 1.045)">A</text>
<text transform="translate(354.3 22.3) scale(1 1.05)">B</text>
</g>
</svg>
</div>
<script>
(function(){
var cv=document.getElementById('cv');var ctx=cv.getContext('2d');
var W=677,H=341;var dk=new Float32Array(W*H);
var s=2463534242;function rnd(){s^=s<<13;s^=s>>>17;s^=s<<5;return (s>>>0)/4294967296;}
function pois(l){if(l>40)return Math.round(l+Math.sqrt(l)*(rnd()-0.5)*3);var L=Math.exp(-l),k=0,p=1;do{k++;p*=rnd();}while(p>L);return k-1;}
function dep(x,y,a){var ix=Math.floor(x),iy=Math.floor(y),fx=x-ix,fy=y-iy;
 if(ix<0||iy<0||ix>=W-1||iy>=H-1)return;var o=iy*W+ix;
 dk[o]+=a*(1-fx)*(1-fy);dk[o+1]+=a*fx*(1-fy);dk[o+W]+=a*(1-fx)*fy;dk[o+W+1]+=a*fx*fy;}
function panel(P){
 for(var py=Math.floor(P.T);py<Math.ceil(P.B);py++){
  for(var px=Math.floor(P.L);px<Math.ceil(P.R);px++){
   var u=P.v0+(px+0.5-P.L)/P.sx, v=P.v0+(P.B-(py+0.5))/P.sy;
   var d=v-u; if(d<-0.02)continue;
   var lam=P.f(u,v,Math.max(d,0))/P.k;
   var n=pois(lam);
   for(var k=0;k<n;k++){
     var x=px-0.5+rnd(),y=py-0.5+rnd();
     var uu=P.v0+(x+0.5-P.L)/P.sx, vv=P.v0+(P.B-(y+0.5))/P.sy;
     if(vv<uu)continue;
     if(x<P.L-0.5||y>P.B-0.5||y<P.T-0.5||x>P.R-0.5)continue;
     dep(x,y,P.amin+(P.amax-P.amin)*rnd());
   }
  }
 }
}
function dom(t,b1,b2){return t<b1?0:(t<b2?1:2);}
var A={L:51.5,T:2.5,R:318.8,B:291.2,v0:1.372,sx:77.32,sy:83.51,amin:0.15,amax:0.9,k:0.43};
A.f=function(u,v,d){
 var b1=2.057,b2=4.205;var du=dom(u,b1,b2),dv=dom(v,b1,b2);
 var g=0.053/Math.pow(d+0.04,1.1);
 var lam;
 if(du==dv){lam=g*[0.9,1.0,0.85][du]+[0.38,0.045,0.18][du];if(du==1)lam+=0.32*Math.exp(-(v-b1)/0.6)*Math.exp(-d/0.7);}
 else{lam=g*0.1+0.052;
  if(du==0&&dv==1){lam+=0.38*Math.exp(-((b1-u)/1.2+(b2-v)/0.4))+0.3*Math.exp(-((b1-u)/0.1+(b2-v)/0.08))+1.5*Math.exp(-((b1-u)/0.04+(b2-v)/0.03));}
  if(du==1&&dv==2){lam+=0.27*Math.exp(-((u-b1)/0.6+(v-b2)/1.2))+0.35*Math.exp(-((u-b1)/0.35+(v-b2)/0.15))+0.3*Math.exp(-((u-b1)/0.08+(v-b2)/0.08))+1.5*Math.exp(-((u-b1)/0.03+(v-b2)/0.04));}
 }
 return lam;
};
var Bp={L:406.8,T:2.6,R:673.6,B:291.0,v0:1.172,sx:123.8,sy:133.92,amin:0.08,amax:0.6,k:0.31};
Bp.f=function(u,v,d){
 var b1=1.902,b2=2.674;var du=dom(u,b1,b2),dv=dom(v,b1,b2);
 var g=0.032/Math.pow(d+0.04,1.5);
 var lam;
 if(du==dv){lam=g*[0.9,0.85,0.85][du]+[0.16,0.07,0.3][du];if(du==1)lam+=0.3*Math.exp(-(v-b1)/0.3)*Math.exp(-d/0.35);}
 else{lam=g*0.2+0.05;
  if(du==0&&dv==1){lam+=0.03+0.24*Math.exp(-((b1-u)/0.35+(b2-v)/0.2))+2.5*Math.exp(-((b1-u)/0.04+(b2-v)/0.015));}
  if(du==1&&dv==2){lam+=0.04+0.2*Math.exp(-((u-b1)/0.3+(v-b2)/0.25))+1.5*Math.exp(-((u-b1)/0.025+(v-b2)/0.05));}
 }
 return lam;
};
panel(A);panel(Bp);
var img=ctx.createImageData(W,H);var D=img.data;
for(var i=0;i<W*H;i++){var g=Math.round(255*Math.exp(-dk[i]));D[i*4]=D[i*4+1]=D[i*4+2]=g;D[i*4+3]=255;}
ctx.putImageData(img,0,0);
function band(P,w1,w2){
 ctx.beginPath();ctx.moveTo(P.L,P.B+0.3);ctx.lineTo(P.L+w1,P.B+0.3);ctx.lineTo(P.R+0.3,P.T-0.3+w1*P.sy/P.sx);ctx.lineTo(P.R+0.3,P.T-0.3);
 ctx.lineTo(P.R-w2,P.T-0.3);ctx.lineTo(P.L,P.B-w2*P.sy/P.sx);ctx.closePath();ctx.fillStyle='#000';ctx.fill();}
band(A,1.6,1.0);band(Bp,2.0,1.0);
})();
</script>
</body></html>
